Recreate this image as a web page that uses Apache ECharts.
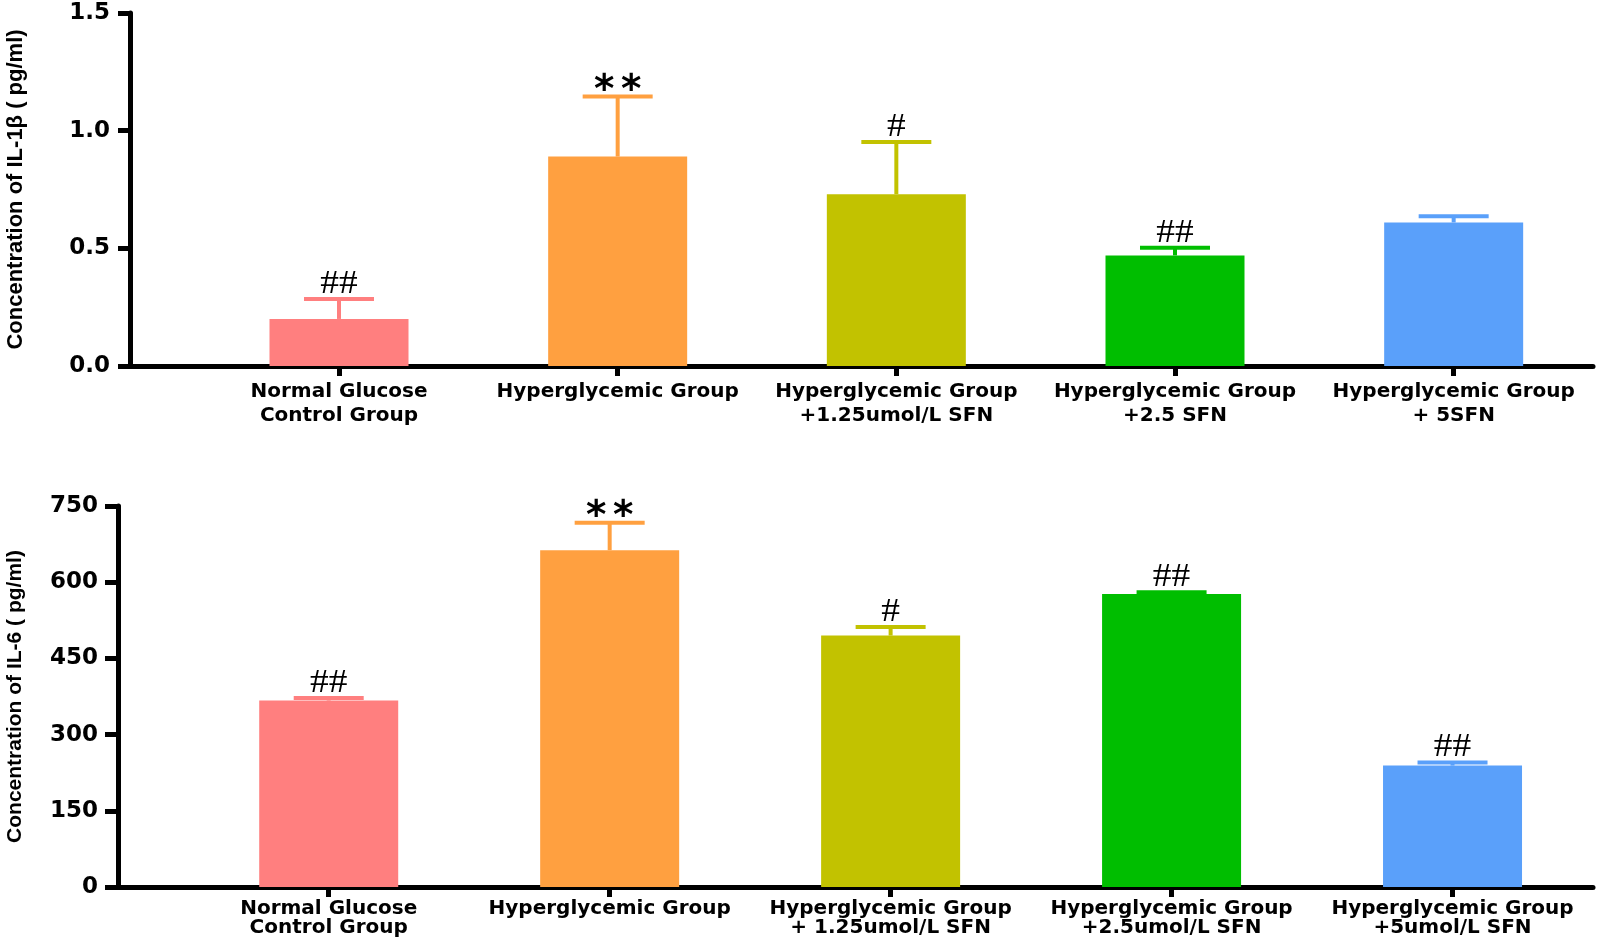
<!DOCTYPE html>
<html>
<head>
<meta charset="utf-8">
<script src="https://cdn.jsdelivr.net/npm/echarts@6/dist/echarts.min.js"></script>
<style>
html,body{margin:0;padding:0;background:#fff;}
#chart{width:1598px;height:940px;}
</style>
</head>
<body>
<div id="chart"></div>
<script>
// ---- data ----
const categoriesTop = [
  'Normal Glucose\nControl Group',
  'Hyperglycemic Group',
  'Hyperglycemic Group\n+1.25umol/L SFN',
  'Hyperglycemic Group\n+2.5 SFN',
  'Hyperglycemic Group\n+ 5SFN'
];
const categoriesBottom = [
  'Normal Glucose\nControl Group',
  'Hyperglycemic Group',
  'Hyperglycemic Group\n+ 1.25umol/L SFN',
  'Hyperglycemic Group\n+2.5umol/L SFN',
  'Hyperglycemic Group\n+5umol/L SFN'
];
const il1bMean = [0.20, 0.89, 0.73, 0.47, 0.61];
const il1bErr  = [0.085, 0.255, 0.222, 0.033, 0.026];
const il1bSig  = ['##', '**', '#', '##', ''];
const il6Mean  = [367, 663, 495, 577, 239];
const il6Err   = [5, 54, 17, 3, 6];
const il6Sig   = ['##', '**', '#', '##', '##'];
const il1bTicks = [0, 0.5, 1.0, 1.5];
const il6Ticks  = [0, 150, 300, 450, 600, 750];
const barColors = ['#FF7F7F', '#FFA040', '#C2C200', '#00BE00', '#5AA0FA'];

const titleTop = 'Concentration of IL-1\u03b2 ( pg/ml)';
const titleBottom = 'Concentration of IL-6 ( pg/ml)';

// ---- chart ----
const chart = echarts.init(document.getElementById('chart'));
const idx = categoriesTop.map((_, i) => i);

function barData(means) {
  return means.map((v, i) => ({ value: [i, v], itemStyle: { color: barColors[i] } }));
}
function errData(means, errs) {
  return means.map((v, i) => [i, v, errs[i]]);
}
function makeErrRender(sigs) {
  return function (params, api) {
    const i = api.value(0), m = api.value(1), e = api.value(2);
    const base = api.coord([i, m]);
    const top = api.coord([i, m + e]);
    const color = barColors[params.dataIndex];
    const half = 35;
    const sig = sigs[params.dataIndex];
    const children = [
      { type: 'line', shape: { x1: base[0], y1: base[1], x2: top[0], y2: top[1] },
        style: { stroke: color, lineWidth: 4 } },
      { type: 'line', shape: { x1: top[0] - half, y1: top[1], x2: top[0] + half, y2: top[1] },
        style: { stroke: color, lineWidth: 4 } }
    ];
    if (sig) {
      const star = sig.indexOf('*') >= 0;
      if (star) {
        const chars = sig.split('');
        const step = 27;
        chars.forEach((ch, k) => {
          children.push({
            type: 'text',
            x: top[0] + (k - (chars.length - 1) / 2) * step, y: top[1] + 15,
            style: {
              text: ch, font: 'bold 39px "DejaVu Sans"', fill: '#000',
              align: 'center', verticalAlign: 'bottom'
            }
          });
        });
      } else {
        children.push({
          type: 'text',
          x: top[0], y: top[1] + 2,
          scaleX: 1.1,
          style: {
            text: sig, font: '34px "Liberation Serif"', fill: '#000',
            align: 'center', verticalAlign: 'bottom'
          }
        });
      }
    }
    return { type: 'group', children };
  };
}

const axisBlack = { color: '#000', width: 5 };

function xAxisCfg(gridIndex, cats, margin, lineHeight) {
  return {
    type: 'value', gridIndex, min: -0.75, max: 4.5,
    splitLine: { show: false },
    axisLine: { show: true, onZero: false, lineStyle: axisBlack },
    axisTick: { show: true, customValues: idx, length: 10, lineStyle: axisBlack },
    axisLabel: {
      customValues: idx, margin,
      formatter: v => cats[Math.round(v)],
      fontFamily: 'DejaVu Sans', fontWeight: 'bold', fontSize: 20, color: '#000',
      lineHeight, align: 'center'
    }
  };
}
function yAxisCfg(gridIndex, min, max, interval, dec, name, nameSize, nameGap, tickLen) {
  return {
    type: 'value', gridIndex, min, max, interval,
    name, nameLocation: 'middle', nameGap, nameRotate: 90,
    nameTextStyle: { fontFamily: '"Liberation Sans", Arial, sans-serif',
      fontWeight: 'bold', fontSize: nameSize, color: '#000' },
    splitLine: { show: false },
    axisLine: { show: true, onZero: false, lineStyle: axisBlack },
    axisTick: { show: true, length: tickLen, lineStyle: axisBlack },
    axisLabel: {
      margin: 20,
      formatter: v => v.toFixed(dec),
      fontFamily: 'DejaVu Sans', fontWeight: 'bold', fontSize: 23, color: '#000'
    }
  };
}

const option = {
  animation: false,
  backgroundColor: '#fff',
  grid: [
    { left: 130, right: 5, top: 13, height: 353, outerBoundsMode: 'none', containLabel: false },
    { left: 118, right: 5, top: 506, height: 381, outerBoundsMode: 'none', containLabel: false }
  ],
  xAxis: [
    xAxisCfg(0, categoriesTop, 14, 24),
    xAxisCfg(1, categoriesBottom, 12, 19)
  ],
  yAxis: [
    yAxisCfg(0, il1bTicks[0], il1bTicks[il1bTicks.length - 1], il1bTicks[1] - il1bTicks[0], 1, titleTop, 22, 103, 12),
    yAxisCfg(1, il6Ticks[0], il6Ticks[il6Ticks.length - 1], il6Ticks[1] - il6Ticks[0], 0, titleBottom, 21, 92, 13)
  ],
  series: [
    { type: 'bar', xAxisIndex: 0, yAxisIndex: 0, barWidth: 139, data: barData(il1bMean) },
    { type: 'custom', xAxisIndex: 0, yAxisIndex: 0, renderItem: makeErrRender(il1bSig),
      data: errData(il1bMean, il1bErr), encode: { x: 0, y: 1 }, z: 3 },
    { type: 'bar', xAxisIndex: 1, yAxisIndex: 1, barWidth: 139, data: barData(il6Mean) },
    { type: 'custom', xAxisIndex: 1, yAxisIndex: 1, renderItem: makeErrRender(il6Sig),
      data: errData(il6Mean, il6Err), encode: { x: 0, y: 1 }, z: 3 }
  ]
};
chart.setOption(option);
</script>
</body>
</html>
